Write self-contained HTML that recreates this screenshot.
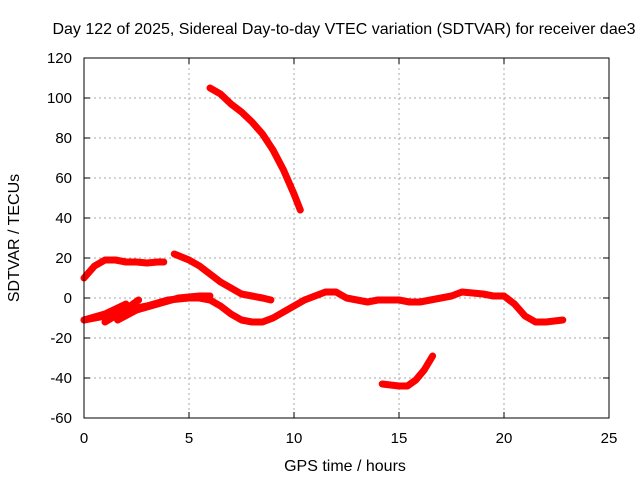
<!DOCTYPE html>
<html><head><meta charset="utf-8"><style>
body{margin:0;background:#fff;}
svg{display:block;font-family:"Liberation Sans",sans-serif;}
</style></head><body>
<svg id="chart" width="640" height="480">
<text x="344" y="34" text-anchor="middle" font-size="16">Day 122 of 2025, Sidereal Day-to-day VTEC variation (SDTVAR) for receiver dae3</text>
<text x="345" y="471" text-anchor="middle" font-size="16">GPS time / hours</text>
<text transform="translate(19,238) rotate(-90)" text-anchor="middle" font-size="16">SDTVAR / TECUs</text>
<g id="grid"></g>
<g id="ticks"></g>
<g id="series"></g>
<rect x="84" y="58" width="525" height="360" fill="none" stroke="#000" stroke-width="1"/>
</svg>
<script>
const xTicks=[0,5,10,15,20,25];
const yTicks=[-60,-40,-20,0,20,40,60,80,100,120];
const seg1X=[0,0.5,1,1.5,2,2.5,3,3.5,3.8];
const seg1Y=[10,16,19,19,18,18,17.5,18,18];
const seg2X=[4.3,5,5.5,6,6.5,7,7.5,8,8.5,8.9];
const seg2Y=[22,19,16,12,8,5,2,1,0,-1];
const seg3X=[6,6.5,7,7.5,8,8.5,9,9.5,10,10.3];
const seg3Y=[105,102,97,93,88,82,74,64,52,44];
const seg4X=[0,1,2,3,4,5,5.5,6,6.5,7,7.5,8,8.5,9,9.5,10,10.5,11,11.5,12,12.5,13,13.5,14,15,15.5,16,16.5,17,17.5,18,19,19.5,20,20.5,21,21.5,22,22.8];
const seg4Y=[-11,-9,-6,-4,-1,0,0,-1,-4,-8,-11,-12,-12,-10,-7,-4,-1,1,3,3,0,-1,-2,-1,-1,-2,-2,-1,0,1,3,2,1,1,-3,-9,-12,-12,-11];
const seg5X=[0,1,2];
const seg5Y=[-11,-8,-3];
const seg6X=[1,1.8,2.6];
const seg6Y=[-12,-7,-1];
const seg7X=[1.6,2.5,3.5,4.5,5.5,6];
const seg7Y=[-11,-6,-3,0,1,1];
const seg8X=[14.2,15,15.4,15.8,16.2,16.6];
const seg8Y=[-43,-44,-44,-41,-36,-29];
const X0=84,X1=609,Y0=418,Y1=58;
const sx=v=>X0+(v-0)/25*(X1-X0);
const sy=v=>Y0-(v+60)/180*(Y0-Y1);
const NS="http://www.w3.org/2000/svg";
const grid=document.getElementById('grid'),ticks=document.getElementById('ticks'),ser=document.getElementById('series');
function mk(t,a,p){const e=document.createElementNS(NS,t);for(const k in a)e.setAttribute(k,a[k]);p.appendChild(e);return e;}
xTicks.forEach(v=>{const x=sx(v);
 if(v>0&&v<25){const g=mk('line',{x1:x,x2:x,y1:Y1,y2:Y0,stroke:'#aaa','stroke-dasharray':'2,3'},grid);}
 const t=mk('line',{x1:x,x2:x,y1:Y0,y2:Y0-6,stroke:'#000'},ticks);
 const t2=mk('line',{x1:x,x2:x,y1:Y1,y2:Y1+6,stroke:'#000'},ticks);
 const l=mk('text',{x:x,y:Y0+25,'text-anchor':'middle','font-size':15},ticks);l.textContent=v;});
yTicks.forEach(v=>{const y=sy(v);
 if(v>-60&&v<120){const g=mk('line',{x1:X0,x2:X1,y1:y,y2:y,stroke:'#aaa','stroke-dasharray':'2,3'},grid);}
 const t=mk('line',{x1:X0,x2:X0+6,y1:y,y2:y,stroke:'#000'},ticks);
 const t2=mk('line',{x1:X1,x2:X1-6,y1:y,y2:y,stroke:'#000'},ticks);
 const l=mk('text',{x:X0-12,y:y+5,'text-anchor':'end','font-size':15},ticks);l.textContent=v;});
[[seg1X,seg1Y],[seg2X,seg2Y],[seg3X,seg3Y],[seg4X,seg4Y],[seg5X,seg5Y],[seg6X,seg6Y],[seg7X,seg7Y],[seg8X,seg8Y]].forEach((s,i)=>{
 const pts=s[0].map((x,j)=>sx(x)+','+sy(s[1][j])).join(' ');
 const p=mk('polyline',{points:pts,fill:'none',stroke:'#f00','stroke-width':7,'stroke-linejoin':'round','stroke-linecap':'round'},ser);
 
 
});
</script>
</body></html>
